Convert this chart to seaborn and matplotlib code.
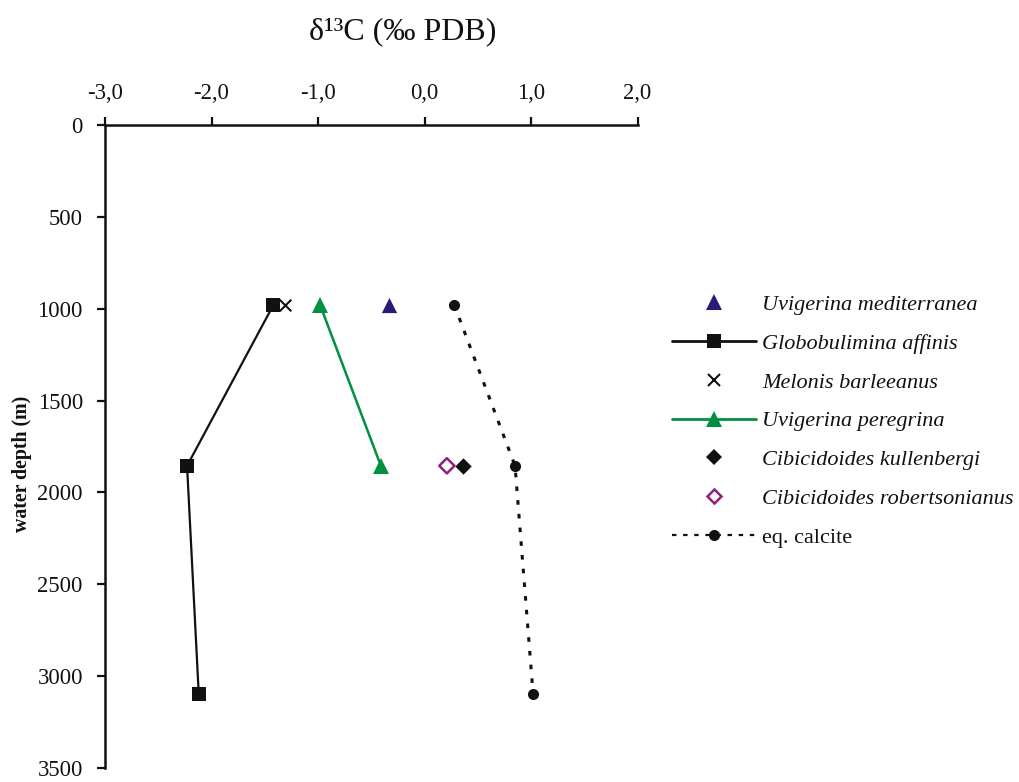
import matplotlib
matplotlib.use("Agg")
import matplotlib.pyplot as plt
import seaborn as sns
from matplotlib.lines import Line2D

# ---- data ----
ga_d13c = [-1.42, -2.23, -2.12]
ga_depth = [980, 1855, 3100]
mb_d13c = [-1.31]
mb_depth = [980]
um_d13c = [-0.33]
um_depth = [980]
up_d13c = [-0.98, -0.41]
up_depth = [980, 1855]
ck_d13c = [0.36]
ck_depth = [1855]
cr_d13c = [0.21]
cr_depth = [1855]
eq_d13c = [0.28, 0.85, 1.02]
eq_depth = [980, 1855, 3100]

x_ticks = [-3, -2, -1, 0, 1, 2]
x_tick_labels = ["-3,0", "-2,0", "-1,0", "0,0", "1,0", "2,0"]
y_ticks = [0, 500, 1000, 1500, 2000, 2500, 3000, 3500]

sns.set_theme(style="white")
plt.rcParams['font.family'] = ['Liberation Serif', 'DejaVu Serif']

fig = plt.figure(figsize=(10.2, 7.82), dpi=100)
ax = fig.add_axes([0.103, 0.018, 0.522, 0.822])

c_navy = "#2b1a78"
c_green = "#009140"
c_purple = "#8e1f82"
c_black = "#111111"
dot_style = (0, (1.5, 3.0))

sns.lineplot(x=ga_d13c, y=ga_depth, sort=False, estimator=None, ax=ax,
             color=c_black, lw=1.6, marker='s', markersize=10, markeredgewidth=0)
sns.lineplot(x=up_d13c, y=up_depth, sort=False, estimator=None, ax=ax,
             color=c_green, lw=1.8, marker='^', markersize=11, markeredgewidth=0)
sns.lineplot(x=eq_d13c, y=eq_depth, sort=False, estimator=None, ax=ax,
             color=c_black, lw=2.2, linestyle=dot_style, marker='o',
             markersize=8, markeredgewidth=0)
sns.scatterplot(x=um_d13c, y=um_depth, ax=ax, color=c_navy, marker='^', s=120, linewidth=0)
sns.scatterplot(x=mb_d13c, y=mb_depth, ax=ax, color=c_black, marker='x', s=70, linewidth=1.5)
sns.scatterplot(x=ck_d13c, y=ck_depth, ax=ax, color=c_black, marker='D', s=70, linewidth=0)
sns.scatterplot(x=cr_d13c, y=cr_depth, ax=ax, facecolor='none', edgecolor=c_purple,
                marker='D', s=60, linewidth=1.8)

ax.set_xlim(-3, 2)
ax.set_ylim(3500, 0)
ax.xaxis.tick_top()
ax.set_xticks(x_ticks)
ax.set_xticklabels(x_tick_labels)
ax.set_yticks(y_ticks)
ax.tick_params(axis='both', which='both', direction='out', length=6, width=1.6,
               labelsize=16.3, colors='#111111')
ax.tick_params(axis='x', top=True, bottom=False, pad=9)
ax.tick_params(axis='y', left=True, pad=10)
for s in ['right', 'bottom']:
    ax.spines[s].set_visible(False)
for s in ['top', 'left']:
    ax.spines[s].set_color('#111111')
    ax.spines[s].set_linewidth(1.8)
ax.grid(False)

ax.set_ylabel("water depth (m)", fontsize=14.3, fontweight='bold', color='#111111')
ax.yaxis.set_label_coords(-0.137, 0.473)
fig.text(0.395, 0.96, "δ¹³C (‰ PDB)", fontsize=23, ha='center', va='center',
         color='#111111')

handles = [
    Line2D([], [], color=c_navy, marker='^', markersize=11, lw=0, markeredgewidth=0),
    Line2D([], [], color=c_black, marker='s', markersize=10, lw=2, markeredgewidth=0),
    Line2D([], [], color=c_black, marker='x', markersize=9, lw=0, markeredgewidth=1.5),
    Line2D([], [], color=c_green, marker='^', markersize=11, lw=2, markeredgewidth=0),
    Line2D([], [], color=c_black, marker='D', markersize=8, lw=0, markeredgewidth=0),
    Line2D([], [], color=c_purple, marker='D', markersize=7.5, lw=0, markerfacecolor='none',
           markeredgewidth=1.8),
    Line2D([], [], color=c_black, marker='o', markersize=8, lw=1.6,
           linestyle=(0, (2.0, 3.0)), markeredgewidth=0),
]
labels = ["Uvigerina mediterranea", "Globobulimina affinis", "Melonis barleeanus",
          "Uvigerina peregrina", "Cibicidoides kullenbergi", "Cibicidoides robertsonianus",
          "eq. calcite"]
leg = fig.legend(handles, labels, loc='center left', bbox_to_anchor=(0.659, 0.4616),
                 frameon=False, fontsize=16, handlelength=3.75, labelspacing=0.82,
                 handletextpad=0.3, borderaxespad=0, borderpad=0)
for i, t in enumerate(leg.get_texts()):
    if i < 6:
        t.set_style('italic')
    t.set_color('#111111')

fig.savefig("out.png", dpi=100)
